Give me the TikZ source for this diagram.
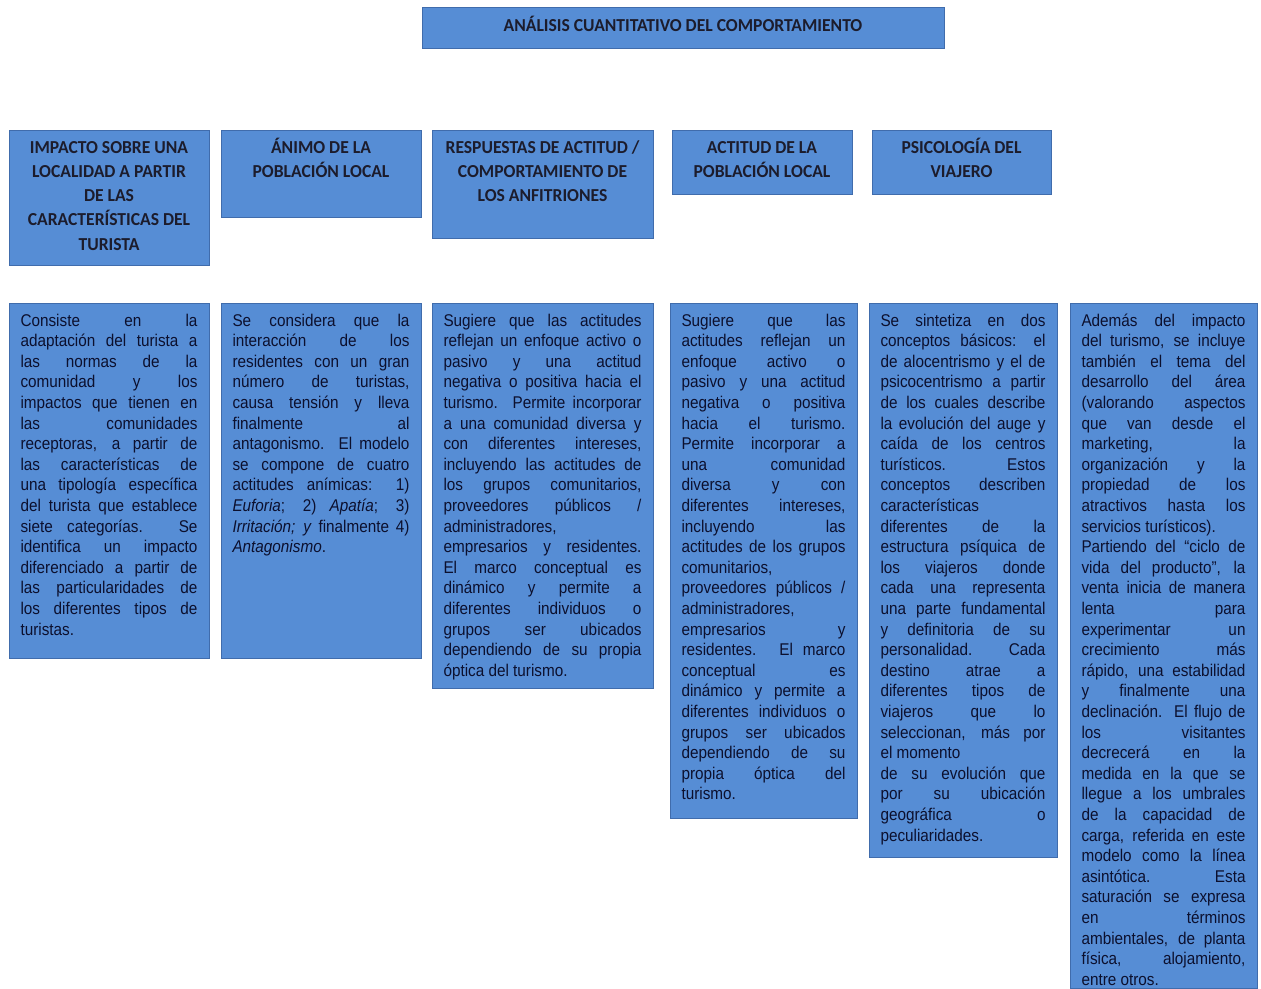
\documentclass[tikz,border=0pt]{standalone}
\usepackage{fontspec}
\newfontfamily\bodyf[FakeStretch=0.9]{Liberation Sans}
\newfontfamily\headf[FakeStretch=0.96]{Carlito}
\definecolor{boxblue}{RGB}{86,141,213}
\definecolor{boxedge}{RGB}{64,108,172}
\definecolor{bodyink}{RGB}{12,16,46}
\definecolor{headink}{RGB}{28,28,44}
\newcommand\Jbr{\linebreak}
\newcommand\Rbr{\newline}
\newcommand\bodypar[3]{\parbox[t][\dimexpr #2pt-17.2pt\relax][t]{\dimexpr #1pt-23pt\relax}{\bodyf\fontsize{17}{20.6}\selectfont\color{bodyink}\tolerance=10000 \hyphenpenalty=10000 \strut #3\par}}
\newcommand\headpar[3]{\parbox[t][\dimexpr #2pt-12pt\relax][t]{\dimexpr #1pt-12pt\relax}{\headf\bfseries\fontsize{18.3}{24.3}\selectfont\color{headink}\centering\strut #3\par}}
\tikzset{
  panel/.style={draw=boxedge, fill=boxblue, line width=0.6pt, outer sep=0pt, anchor=north west},
  headbox/.style={panel, inner xsep=6pt, inner ysep=6pt},
  bodybox/.style={panel, inner xsep=11.5pt, inner ysep=8.6pt},
  titlebox/.style={panel, inner sep=0pt, minimum width=522pt, minimum height=41pt,
    text height=13pt, text depth=6pt,
    font=\headf\bfseries\fontsize{18.3}{24.3}\selectfont, text=headink}
}
\begin{document}
\begin{tikzpicture}[x=1pt,y=-1pt]
\fill[white] (0,0) rectangle (1261,988);
\useasboundingbox (0,0) rectangle (1261,988);

\node[titlebox] (title) at (422,7) {ANÁLISIS CUANTITATIVO DEL COMPORTAMIENTO};

\node[headbox] (h1) at (9,130) {\headpar{200}{135}{IMPACTO SOBRE UNA\\ LOCALIDAD A PARTIR\\ DE LAS\\ CARACTERÍSTICAS DEL\\ TURISTA}};
\node[headbox] (h2) at (221,130) {\headpar{200}{87}{ÁNIMO DE LA\\ POBLACIÓN LOCAL}};
\node[headbox] (h3) at (432,130) {\headpar{221}{108}{RESPUESTAS DE ACTITUD /\\ COMPORTAMIENTO DE\\ LOS ANFITRIONES}};
\node[headbox] (h4) at (672,130) {\headpar{180}{64}{ACTITUD DE LA\\ POBLACIÓN LOCAL}};
\node[headbox] (h5) at (872,130) {\headpar{179}{64}{PSICOLOGÍA DEL\\ VIAJERO}};

\node[bodybox] (t1) at (9,303) {\bodypar{200}{355}{Consiste en la\Jbr
adaptación del turista a\Jbr
las normas de la\Jbr
comunidad y los\Jbr
impactos que tienen en\Jbr
las comunidades\Jbr
receptoras, a partir de\Jbr
las características de\Jbr
una tipología específica\Jbr
del turista que establece\Jbr
siete categorías. Se\Jbr
identifica un impacto\Jbr
diferenciado a partir de\Jbr
las particularidades de\Jbr
los diferentes tipos de\Jbr
turistas.}};

\node[bodybox] (t2) at (221,303) {\bodypar{200}{355}{Se considera que la\Jbr
interacción de los\Jbr
residentes con un gran\Jbr
número de turistas,\Jbr
causa tensión y lleva\Jbr
finalmente al\Jbr
antagonismo. El modelo\Jbr
se compone de cuatro\Jbr
actitudes anímicas: 1)\Jbr
\textit{Euforia}; 2) \textit{Apatía}; 3)\Jbr
\textit{Irritación; y} finalmente 4)\Jbr
\textit{Antagonismo}.}};

\node[bodybox] (t3) at (432,303) {\bodypar{221}{385}{Sugiere que las actitudes\Jbr
reflejan un enfoque activo o\Jbr
pasivo y una actitud\Jbr
negativa o positiva hacia el\Jbr
turismo. Permite incorporar\Jbr
a una comunidad diversa y\Jbr
con diferentes intereses,\Jbr
incluyendo las actitudes de\Jbr
los grupos comunitarios,\Jbr
proveedores públicos /\Jbr
administradores,\Rbr
empresarios y residentes.\Jbr
El marco conceptual es\Jbr
dinámico y permite a\Jbr
diferentes individuos o\Jbr
grupos ser ubicados\Jbr
dependiendo de su propia\Jbr
óptica del turismo.}};

\node[bodybox] (t4) at (670,303) {\bodypar{187}{515}{Sugiere que las\Jbr
actitudes reflejan un\Jbr
enfoque activo o\Jbr
pasivo y una actitud\Jbr
negativa o positiva\Jbr
hacia el turismo.\Jbr
Permite incorporar a\Jbr
una comunidad\Jbr
diversa y con\Jbr
diferentes intereses,\Jbr
incluyendo las\Jbr
actitudes de los grupos\Jbr
comunitarios,\Rbr
proveedores públicos /\Jbr
administradores,\Rbr
empresarios y\Jbr
residentes. El marco\Jbr
conceptual es\Jbr
dinámico y permite a\Jbr
diferentes individuos o\Jbr
grupos ser ubicados\Jbr
dependiendo de su\Jbr
propia óptica del\Jbr
turismo.}};

\node[bodybox] (t5) at (869,303) {\bodypar{188}{554}{Se sintetiza en dos\Jbr
conceptos básicos: el\Jbr
de alocentrismo y el de\Jbr
psicocentrismo a partir\Jbr
de los cuales describe\Jbr
la evolución del auge y\Jbr
caída de los centros\Jbr
turísticos. Estos\Jbr
conceptos describen\Jbr
características\Rbr
diferentes de la\Jbr
estructura psíquica de\Jbr
los viajeros donde\Jbr
cada una representa\Jbr
una parte fundamental\Jbr
y definitoria de su\Jbr
personalidad. Cada\Jbr
destino atrae a\Jbr
diferentes tipos de\Jbr
viajeros que lo\Jbr
seleccionan, más por\Jbr
el momento\Rbr
de su evolución que\Jbr
por su ubicación\Jbr
geográfica o\Jbr
peculiaridades.}};

\node[bodybox] (t6) at (1070,303) {\bodypar{187}{685}{Además del impacto\Jbr
del turismo, se incluye\Jbr
también el tema del\Jbr
desarrollo del área\Jbr
(valorando aspectos\Jbr
que van desde el\Jbr
marketing, la\Jbr
organización y la\Jbr
propiedad de los\Jbr
atractivos hasta los\Jbr
servicios turísticos).\Rbr
Partiendo del “ciclo de\Jbr
vida del producto”, la\Jbr
venta inicia de manera\Jbr
lenta para\Jbr
experimentar un\Jbr
crecimiento más\Jbr
rápido, una estabilidad\Jbr
y finalmente una\Jbr
declinación. El flujo de\Jbr
los visitantes\Jbr
decrecerá en la\Jbr
medida en la que se\Jbr
llegue a los umbrales\Jbr
de la capacidad de\Jbr
carga, referida en este\Jbr
modelo como la línea\Jbr
asintótica. Esta\Jbr
saturación se expresa\Jbr
en términos\Jbr
ambientales, de planta\Jbr
física, alojamiento,\Jbr
entre otros.}};
\end{tikzpicture}
\end{document}
